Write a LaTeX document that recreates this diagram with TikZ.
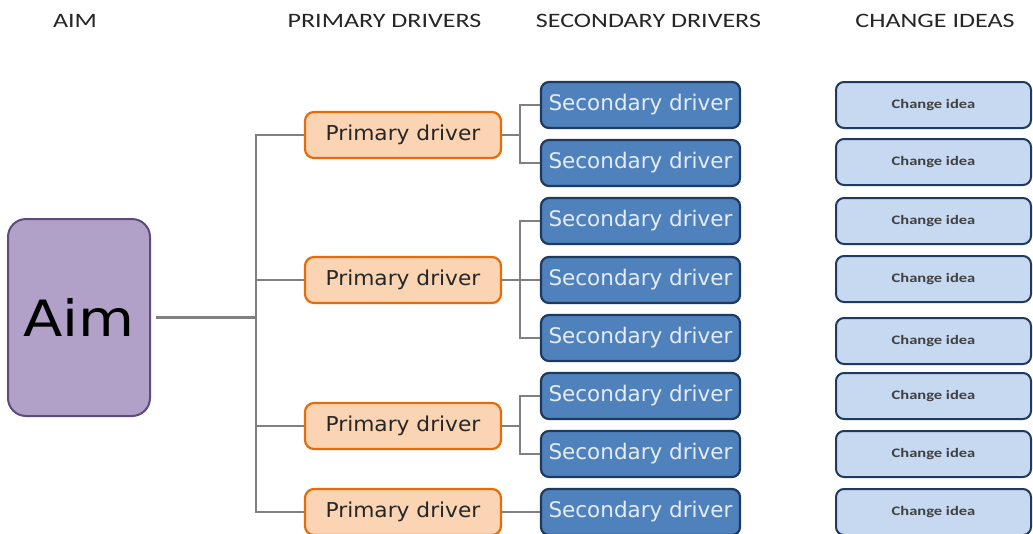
\documentclass[tikz,border=0pt]{standalone}
\usepackage{fontspec}
\setmainfont{Carlito}
\newfontfamily\vfont{DejaVu Sans}
\newcommand{\wide}[2]{\scalebox{#1}[1]{#2}}
\begin{document}
\begin{tikzpicture}[x=1pt,y=-1pt,
  hdr/.style={font=\fontsize{20.5}{22}\selectfont, text=black!85},
  aimbox/.style={draw=aimborder, fill=aimfill, line width=2pt, rounded corners=18pt, minimum width=142pt, minimum height=197pt, inner sep=0pt, font=\vfont\fontsize{50}{54}\selectfont},
  pribox/.style={draw=priborder, fill=prifill, line width=2.2pt, rounded corners=9pt, minimum width=196pt, minimum height=46pt, inner sep=0pt, font=\vfont\fontsize{20.5}{22}\selectfont, text=black!85},
  secbox/.style={draw=secborder, fill=secfill, line width=2.2pt, rounded corners=8pt, minimum width=199pt, minimum height=46pt, inner sep=0pt, font=\vfont\fontsize{21.5}{24}\selectfont, text=sectext},
  chbox/.style={draw=secborder, fill=chfill, line width=2pt, rounded corners=8pt, minimum width=195pt, minimum height=46pt, inner sep=0pt, font=\bfseries\fontsize{13}{14}\selectfont, text=black!75},
  conn/.style={draw=conncol, line width=2.8pt}
]
\definecolor{aimfill}{HTML}{B1A0C7}
\definecolor{aimborder}{HTML}{5E4B7C}
\definecolor{prifill}{HTML}{FBD4B4}
\definecolor{priborder}{HTML}{E46C0A}
\definecolor{secfill}{HTML}{4F81BD}
\definecolor{secborder}{HTML}{1F3A5F}
\definecolor{sectext}{HTML}{E4ECF6}
\definecolor{chfill}{HTML}{C6D9F1}
\definecolor{conncol}{HTML}{808080}
\useasboundingbox[fill=white] (0,0) rectangle (1033,533);

\node[hdr] (h1) at (75,21) {\wide{1.27}{AIM}};
\node[hdr] (h2) at (384.5,21) {\wide{1.27}{PRIMARY DRIVERS}};
\node[hdr] (h3) at (648.5,21) {\wide{1.27}{SECONDARY DRIVERS}};
\node[hdr] (h4) at (935,21) {\wide{1.27}{CHANGE IDEAS}};

\node[aimbox] (aim) at (79,317.5) {\wide{1.15}{Aim}};

\coordinate (tr) at (256,317.5);
\coordinate (j1) at (520,135);
\coordinate (j2) at (520,280);
\coordinate (j3) at (520,426);

\node[pribox] (p1) at (403,135) {\wide{1.06}{Primary driver}};
\node[pribox] (p2) at (403,280) {\wide{1.06}{Primary driver}};
\node[pribox] (p3) at (403,426) {\wide{1.06}{Primary driver}};
\node[pribox] (p4) at (403,512) {\wide{1.06}{Primary driver}};

\foreach \i/\y in {1/105,2/163,3/221,4/280,5/338,6/396,7/454,8/512}{
  \node[secbox] (s\i) at (640.5,\y) {Secondary driver};
}
\foreach \i/\y in {1/105,2/162,3/221,4/279,5/341,6/396,7/454,8/512}{
  \node[chbox] (c\i) at (933.5,\y) {\wide{1.27}{Change idea}};
}

\begin{scope}[on background layer/.style={}]
\end{scope}

\draw[conn] (aim.east) ++(5,0) -- (tr);
\draw[conn] (p1.west) -| (tr) |- (p4.west);
\draw[conn] (p2.west) -- (p2.west -| tr);
\draw[conn] (p3.west) -- (p3.west -| tr);

\draw[conn] (p1.east) -- (j1);
\draw[conn] (s1.west) -| (j1) |- (s2.west);
\draw[conn] (p2.east) -- (j2);
\draw[conn] (s3.west) -| (j2) |- (s5.west);
\draw[conn] (j2) -- (s4.west);
\draw[conn] (p3.east) -- (j3);
\draw[conn] (s6.west) -| (j3) |- (s7.west);
\draw[conn] (p4.east) -- (s8.west);
\end{tikzpicture}
\end{document}
